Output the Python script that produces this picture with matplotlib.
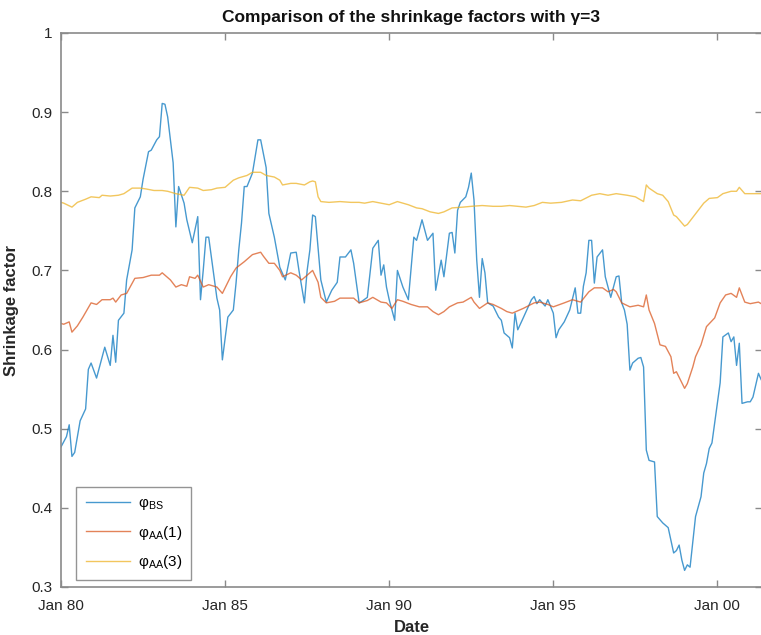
import matplotlib
matplotlib.use("Agg")
import matplotlib.pyplot as plt
import numpy as np

plt.rcParams['font.family'] = ['Liberation Sans', 'DejaVu Sans']
plt.rcParams['mathtext.default'] = 'regular'

# Months elapsed since Jan 1980 and the shrinkage factor at each observation
bs_month = [0, 2, 3, 4, 5, 7, 9, 10, 11, 13, 15, 16, 18, 19, 20, 21, 23, 24, 26, 27,
            29, 30, 32, 33, 35, 36, 37, 38, 39, 41, 42, 43, 45, 46, 48, 50, 51, 52, 53, 54,
            56, 57, 58, 59, 61, 63, 64, 65, 66, 67, 68, 70, 72, 73, 75, 76, 78, 80, 82, 84,
            86, 87, 89, 90, 91, 92, 93, 95, 97, 99, 101, 102, 104, 106, 107, 109, 110, 112, 114, 116,
            117, 118, 119, 120, 122, 123, 125, 127, 129, 130, 132, 134, 136, 137, 139, 140, 142, 143, 144, 145,
            146, 148, 149, 150, 151, 152, 153, 154, 155, 156, 158, 160, 161, 162, 164, 165, 166, 167, 169, 172,
            173, 174, 175, 177, 178, 180, 181, 182, 184, 186, 188, 189, 190, 191, 192, 193, 194, 195, 196, 198,
            199, 201, 203, 204, 205, 206, 207, 208, 209, 211, 212, 213, 214, 215, 217, 218, 220, 222, 224, 225,
            226, 227, 228, 229, 230, 232, 234, 235, 236, 237, 238, 239, 241, 242, 244, 245, 246, 247, 248, 249,
            251, 252, 253, 255, 256]
bs_value = [0.477, 0.490, 0.505, 0.465, 0.470, 0.510, 0.525, 0.575, 0.583, 0.564, 0.590, 0.603, 0.580, 0.618, 0.584, 0.637, 0.646, 0.688, 0.726, 0.779,
            0.793, 0.815, 0.850, 0.852, 0.865, 0.869, 0.911, 0.910, 0.894, 0.836, 0.755, 0.806, 0.785, 0.764, 0.735, 0.768, 0.663, 0.700, 0.742, 0.742,
            0.690, 0.665, 0.650, 0.587, 0.641, 0.650, 0.684, 0.726, 0.760, 0.806, 0.806, 0.823, 0.865, 0.865, 0.830, 0.772, 0.742, 0.704, 0.688, 0.722,
            0.723, 0.700, 0.659, 0.700, 0.726, 0.770, 0.768, 0.688, 0.660, 0.675, 0.685, 0.717, 0.717, 0.726, 0.709, 0.659, 0.661, 0.666, 0.728, 0.738,
            0.694, 0.707, 0.679, 0.663, 0.637, 0.700, 0.679, 0.663, 0.742, 0.738, 0.764, 0.738, 0.747, 0.675, 0.713, 0.692, 0.747, 0.748, 0.722, 0.776,
            0.786, 0.793, 0.805, 0.823, 0.789, 0.713, 0.666, 0.715, 0.697, 0.659, 0.655, 0.641, 0.637, 0.621, 0.615, 0.602, 0.646, 0.625, 0.640, 0.663,
            0.667, 0.658, 0.663, 0.655, 0.663, 0.646, 0.615, 0.625, 0.635, 0.650, 0.678, 0.646, 0.646, 0.680, 0.697, 0.738, 0.738, 0.684, 0.717, 0.726,
            0.692, 0.666, 0.692, 0.693, 0.659, 0.650, 0.632, 0.574, 0.583, 0.589, 0.590, 0.578, 0.473, 0.460, 0.458, 0.389, 0.381, 0.375, 0.343, 0.346,
            0.353, 0.334, 0.321, 0.328, 0.325, 0.389, 0.414, 0.444, 0.456, 0.475, 0.482, 0.507, 0.558, 0.616, 0.621, 0.610, 0.616, 0.580, 0.608, 0.532,
            0.534, 0.534, 0.540, 0.570, 0.562]

aa1_month = [0, 1, 3, 4, 6, 8, 11, 13, 15, 18, 19, 20, 22, 24, 27, 30, 33, 36, 37, 40,
             42, 44, 46, 47, 49, 50, 52, 54, 57, 59, 62, 64, 67, 70, 73, 74, 76, 78, 80, 81,
             84, 86, 88, 90, 92, 94, 95, 97, 100, 102, 105, 107, 109, 112, 114, 117, 119, 121, 123, 125,
             128, 131, 134, 136, 138, 140, 142, 145, 147, 150, 151, 153, 156, 158, 161, 163, 165, 167, 169, 173,
             175, 178, 180, 184, 187, 190, 193, 195, 198, 200, 202, 203, 205, 208, 211, 213, 214, 215, 217, 219,
             221, 223, 224, 225, 226, 228, 229, 231, 232, 234, 236, 239, 241, 243, 245, 247, 248, 250, 252, 255,
             256]
aa1_value = [0.633, 0.632, 0.635, 0.622, 0.630, 0.641, 0.659, 0.657, 0.663, 0.663, 0.665, 0.660, 0.669, 0.671, 0.690, 0.691, 0.694, 0.694, 0.697, 0.688,
             0.679, 0.682, 0.680, 0.692, 0.690, 0.694, 0.679, 0.682, 0.679, 0.671, 0.692, 0.703, 0.711, 0.720, 0.723, 0.718, 0.709, 0.709, 0.700, 0.692,
             0.697, 0.694, 0.688, 0.694, 0.700, 0.685, 0.666, 0.659, 0.661, 0.665, 0.665, 0.665, 0.659, 0.662, 0.666, 0.660, 0.659, 0.652, 0.663, 0.661,
             0.657, 0.654, 0.654, 0.648, 0.644, 0.648, 0.654, 0.659, 0.660, 0.666, 0.660, 0.652, 0.659, 0.657, 0.652, 0.648, 0.646, 0.649, 0.652, 0.659,
             0.660, 0.657, 0.654, 0.659, 0.663, 0.660, 0.673, 0.678, 0.678, 0.673, 0.676, 0.673, 0.659, 0.654, 0.656, 0.654, 0.669, 0.650, 0.633, 0.606,
             0.604, 0.591, 0.570, 0.572, 0.565, 0.551, 0.557, 0.578, 0.591, 0.606, 0.629, 0.640, 0.659, 0.669, 0.671, 0.666, 0.678, 0.660, 0.658, 0.660,
             0.658]

aa3_month = [0, 1, 4, 6, 9, 11, 14, 15, 18, 21, 23, 26, 29, 31, 34, 37, 39, 42, 45, 47,
             50, 52, 55, 57, 60, 63, 65, 68, 70, 73, 75, 78, 80, 81, 84, 86, 89, 91, 92, 93,
             94, 95, 98, 102, 106, 109, 111, 114, 117, 120, 123, 127, 130, 132, 135, 138, 140, 143, 147, 150,
             154, 158, 161, 164, 167, 170, 173, 176, 179, 183, 187, 190, 194, 197, 200, 203, 207, 210, 213, 214,
             215, 218, 220, 222, 224, 225, 226, 228, 229, 231, 233, 235, 237, 240, 242, 245, 247, 248, 250, 253,
             256]
aa3_value = [0.786, 0.785, 0.780, 0.786, 0.790, 0.793, 0.792, 0.795, 0.794, 0.795, 0.797, 0.804, 0.804, 0.803, 0.801, 0.801, 0.800, 0.797, 0.795, 0.805,
             0.804, 0.801, 0.802, 0.804, 0.805, 0.814, 0.817, 0.820, 0.824, 0.824, 0.820, 0.818, 0.814, 0.808, 0.810, 0.810, 0.808, 0.812, 0.813, 0.812,
             0.793, 0.787, 0.786, 0.787, 0.786, 0.786, 0.785, 0.787, 0.785, 0.783, 0.787, 0.783, 0.779, 0.778, 0.774, 0.772, 0.774, 0.779, 0.780, 0.781,
             0.782, 0.781, 0.781, 0.782, 0.781, 0.780, 0.782, 0.786, 0.785, 0.786, 0.789, 0.788, 0.795, 0.797, 0.795, 0.797, 0.795, 0.793, 0.787, 0.808,
             0.804, 0.797, 0.795, 0.787, 0.770, 0.768, 0.764, 0.756, 0.758, 0.767, 0.776, 0.785, 0.791, 0.792, 0.797, 0.800, 0.800, 0.805, 0.797, 0.797,
             0.797]

tick_years = [1980, 1985, 1990, 1995, 2000]
tick_labels = ['Jan 80', 'Jan 85', 'Jan 90', 'Jan 95', 'Jan 00']
series_labels = ['φ$_{BS}$', 'φ$_{AA}$(1)', 'φ$_{AA}$(3)']
series_colors = ['#0072BD', '#D95319', '#EDB120']


def to_year(months):
    return 1980 + np.asarray(months, dtype=float) / 12.0


fig = plt.figure(figsize=(7.61, 6.35), dpi=100)
ax = fig.add_axes([61 / 761, 48 / 635, 701 / 761, 554 / 635])

for months, values, label, color in zip(
        [bs_month, aa1_month, aa3_month],
        [bs_value, aa1_value, aa3_value],
        series_labels, series_colors):
    ax.plot(to_year(months), values, color=color, lw=1.0, alpha=0.72, label=label)

ax.set_xlim(1980, to_year([256.3])[0])
ax.set_ylim(0.3, 1.0)
ax.set_xticks(tick_years)
ax.set_xticklabels(tick_labels)
ax.set_yticks(np.round(np.arange(0.3, 1.01, 0.1), 1))
ax.set_yticklabels(['0.3', '0.4', '0.5', '0.6', '0.7', '0.8', '0.9', '1'])

axis_grey = '#8a8a8a'
for side in ax.spines.values():
    side.set_color(axis_grey)
    side.set_linewidth(1.2)
ax.tick_params(direction='in', length=5, width=1, color=axis_grey,
               top=True, right=True, labelsize=11, labelcolor='#262626')
ax.tick_params(axis='x', pad=9)
ax.tick_params(axis='y', pad=6)

ax.set_title('Comparison of the shrinkage factors with γ=3',
             fontsize=12.5, fontweight='bold', color='#111111', pad=8)
ax.set_xlabel('Date', fontsize=12, fontweight='bold', color='#262626', labelpad=5)
ax.set_ylabel('Shrinkage factor', fontsize=12, fontweight='bold', color='#262626', labelpad=9)

leg = ax.legend(loc='lower left', bbox_to_anchor=(0.022, 0.012), borderaxespad=0,
                fontsize=11, frameon=True, fancybox=False, handlelength=2.9,
                handletextpad=0.5, labelspacing=0.75, borderpad=0.6)
leg.get_frame().set_edgecolor('#7a7a7a')
leg.get_frame().set_linewidth(1.0)
for line in leg.get_lines():
    line.set_alpha(0.72)

fig.savefig('out.png', dpi=100)
